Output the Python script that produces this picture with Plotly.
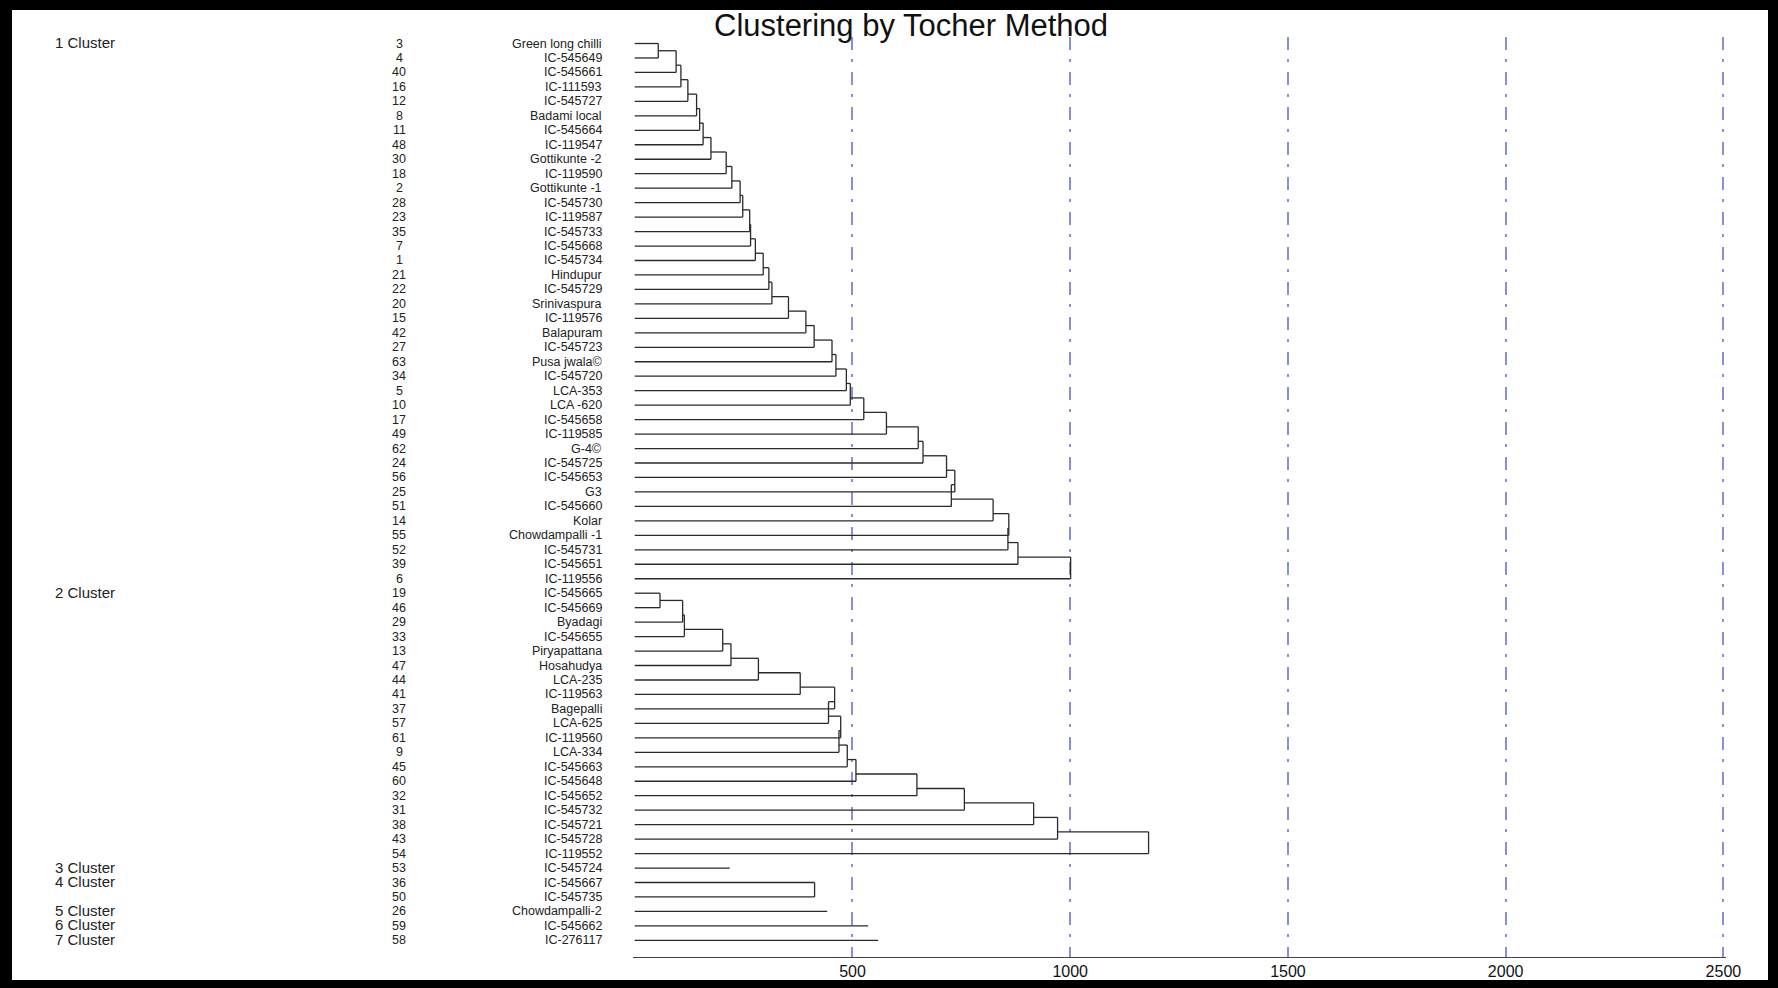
import plotly.graph_objects as go

# ---------------- data ----------------
chart_title = "Clustering by Tocher Method"

leaf_ids = [3, 4, 40, 16, 12, 8, 11, 48, 30, 18, 2, 28, 23, 35, 7, 1, 21, 22, 20, 15,
            42, 27, 63, 34, 5, 10, 17, 49, 62, 24, 56, 25, 51, 14, 55, 52, 39, 6,
            19, 46, 29, 33, 13, 47, 44, 41, 37, 57, 61, 9, 45, 60, 32, 31, 38, 43, 54,
            53, 36, 50, 26, 59, 58]

leaf_names = ["Green long chilli", "IC-545649", "IC-545661", "IC-111593", "IC-545727",
              "Badami local", "IC-545664", "IC-119547", "Gottikunte -2", "IC-119590",
              "Gottikunte -1", "IC-545730", "IC-119587", "IC-545733", "IC-545668",
              "IC-545734", "Hindupur", "IC-545729", "Srinivaspura", "IC-119576",
              "Balapuram", "IC-545723", "Pusa jwala©", "IC-545720", "LCA-353",
              "LCA -620", "IC-545658", "IC-119585", "G-4©", "IC-545725", "IC-545653",
              "G3", "IC-545660", "Kolar", "Chowdampalli -1", "IC-545731", "IC-545651",
              "IC-119556",
              "IC-545665", "IC-545669", "Byadagi", "IC-545655", "Piryapattana",
              "Hosahudya", "LCA-235", "IC-119563", "Bagepalli", "LCA-625", "IC-119560",
              "LCA-334", "IC-545663", "IC-545648", "IC-545652", "IC-545732",
              "IC-545721", "IC-545728", "IC-119552",
              "IC-545724", "IC-545667", "IC-545735", "Chowdampalli-2", "IC-545662",
              "IC-276117"]

cluster_labels = ["1 Cluster", "2 Cluster", "3 Cluster", "4 Cluster",
                  "5 Cluster", "6 Cluster", "7 Cluster"]
cluster_sizes = [38, 19, 1, 2, 1, 1, 1]

# distance at which each successive member joins its cluster
cluster1_heights = [54, 95, 106, 122, 142, 149, 157, 175, 210, 223, 242, 248, 264, 266,
                    277, 295, 308, 315, 353, 393, 412, 453, 462, 486, 495, 526, 578,
                    651, 662, 716, 735, 727, 823, 859, 857, 880, 1001]
cluster2_heights = [58, 110, 114, 202, 221, 284, 380, 459, 445, 473, 469, 488, 508,
                    648, 757, 916, 971, 1180]
cluster3_heights = [218]
cluster4_heights = [413]
cluster5_heights = [442]
cluster6_heights = [536]
cluster7_heights = [559]
cluster_heights = [cluster1_heights, cluster2_heights, cluster3_heights,
                   cluster4_heights, cluster5_heights, cluster6_heights,
                   cluster7_heights]

x_ticks = [500, 1000, 1500, 2000, 2500]

# ---------------- geometry (page has an 8px body margin) ----------------
OFF = 8
W, H = 1778 - 2 * OFF, 988 - 2 * OFF
ML, MR, MT, MB = 625, 44, 29, 23
PW, PH = W - ML - MR, H - MT - MB
n_rows = len(leaf_ids)


def px(xpage):
    return (xpage - OFF - ML) / PW


def py(ypage):
    return 1 - (ypage - OFF - MT) / PH


FONT = "Liberation Sans, Arial, sans-serif"
LINE = "#2a2a2a"

# ---------------- dendrogram segments ----------------
xs, ys = [], []


def seg(x0, y0, x1, y1):
    xs.extend([x0, x1, None])
    ys.extend([y0, y1, None])


start = 0
for size, hs in zip(cluster_sizes, cluster_heights):
    if size == 1:
        seg(0, start, hs[0], start)
    else:
        prev_h, node_y = 0, start
        for k in range(1, size):
            leaf = start + k
            h = hs[k - 1]
            if k == 1:
                seg(0, start, h, start)
            else:
                seg(prev_h, node_y, h, node_y)
            seg(h, node_y, h, leaf)
            seg(0, leaf, h, leaf)
            node_y = (leaf - 1 + leaf) / 2
            prev_h = h
    start += size

fig = go.Figure()
fig.add_trace(go.Scatter(x=xs, y=ys, mode="lines",
                         line=dict(color=LINE, width=1.3),
                         hoverinfo="skip", showlegend=False))

annotations = []
# title
annotations.append(dict(text=chart_title, x=px(911), y=py(25), xref="paper", yref="paper",
                        xanchor="center", yanchor="middle", showarrow=False,
                        font=dict(family=FONT, size=31, color="#111")))
# leaf numbers and names
for i, (lid, name) in enumerate(zip(leaf_ids, leaf_names)):
    annotations.append(dict(text=str(lid), x=px(399), y=i, xref="paper", yref="y",
                            xanchor="center", yanchor="middle", showarrow=False,
                            font=dict(family=FONT, size=12.5, color="#222")))
    annotations.append(dict(text=name, x=px(604), y=i, xref="paper", yref="y",
                            xanchor="right", yanchor="middle", showarrow=False,
                            font=dict(family=FONT, size=12.5, color="#222")))
# cluster labels
start = 0
for lab, size in zip(cluster_labels, cluster_sizes):
    annotations.append(dict(text=lab, x=px(53), y=start, xref="paper", yref="y",
                            xanchor="left", yanchor="middle", showarrow=False, yshift=1,
                            font=dict(family=FONT, size=15, color="#222")))
    start += size

# inner part of the black frame (outer 8px is the page background)
shapes = []
for (x0, y0, x1, y1) in [(0, 0, 1778, 10), (0, 0, 12, 988), (1768, 0, 1778, 988)]:
    shapes.append(dict(type="rect", xref="paper", yref="paper",
                       x0=px(x0), x1=px(x1), y0=py(y1), y1=py(y0),
                       fillcolor="black", line=dict(width=0), layer="above"))

fig.update_layout(
    width=W, height=H,
    margin=dict(l=ML, r=MR, t=MT, b=MB, pad=0, autoexpand=False),
    paper_bgcolor="white", plot_bgcolor="white",
    showlegend=False,
    annotations=annotations,
    shapes=shapes,
    xaxis=dict(range=[-4, 2506], tickvals=x_ticks, ticktext=[str(v) for v in x_ticks],
               automargin=False,
               showgrid=True, gridcolor="#8a8ed3", gridwidth=2,
               griddash="13px,9px,3px,10px",
               zeroline=False, showline=True, linecolor="#444", linewidth=1,
               ticks="", ticklen=0,
               tickfont=dict(family=FONT, size=16, color="#111"), fixedrange=True),
    yaxis=dict(range=[n_rows + 0.15, -0.45], showgrid=False, zeroline=False,
               automargin=False,
               showticklabels=False, showline=False, fixedrange=True),
)

fig.write_html("out.html",
               config={"displayModeBar": False, "staticPlot": True},
               post_script="document.body.style.background='black';")
